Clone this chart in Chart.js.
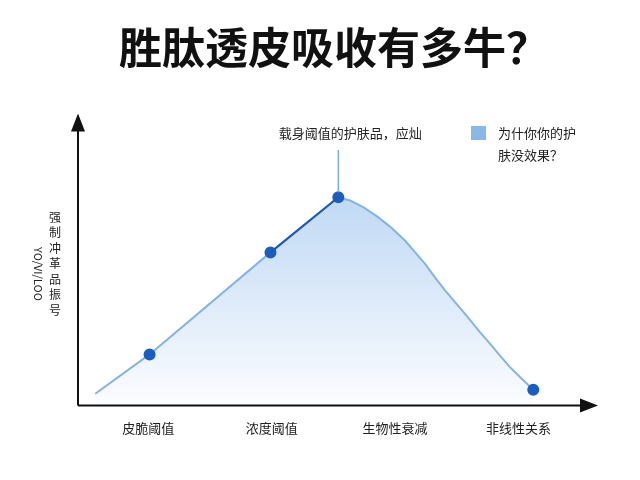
<!DOCTYPE html>
<html>
<head>
<meta charset="utf-8">
<script src="https://cdn.jsdelivr.net/npm/chart.js@4.4.1/dist/chart.umd.min.js"></script>
<style>
  html, body { margin: 0; padding: 0; background: #fff; }
  #wrap { width: 640px; height: 480px; }
</style>
</head>
<body>
<div id="wrap"><canvas id="c" width="640" height="480"></canvas></div>
<script>
var FONT = '"Noto Sans CJK SC", "Noto Sans", sans-serif';

// categories along the x axis (tick positions 1..4)
var categories = ['皮脆阈值', '浓度阈值', '生物性衰减', '非线性关系'];
var tickValues = [1, 2, 3, 4];

// curve
var curveX = [0.57, 1.01, 1.99, 2.54, 2.635, 2.742, 2.851, 2.959, 3.080, 3.161, 3.242, 3.323,
              3.405, 3.486, 3.567, 3.688, 3.769, 3.850, 3.931, 4.012, 4.12];
var curveY = [4.0, 17.6, 52.8, 71.8, 70.7, 68.4, 65.3, 61.7, 56.9, 52.9, 48.9, 44.2,
              39.7, 35.6, 31.6, 25.3, 21.3, 17.2, 13.2, 9.8, 5.4];
var markerIdx = [1, 2, 3, 20];
var peakIdx = 3;
// darker stretch between the 2nd marker and the peak
var darkX = [1.99, 2.54];
var darkY = [52.8, 71.8];

var titleText = '胜肽透皮吸收有多牛？';
var yLabel = '强制冲革品振号';
var yLabel2 = 'YO/VI/LOO';
var noteText = '载身阈值的护肤品，应灿';
var legendLines = ['为什你你的护', '肤没效果？'];

var points = curveX.map(function (x, i) { return { x: x, y: curveY[i] }; });
var radii = curveX.map(function (x, i) { return markerIdx.indexOf(i) >= 0 ? 5 : 0; });
var darkPoints = darkX.map(function (x, i) { return { x: x, y: darkY[i] }; });

var decor = {
    id: 'decor',
    afterDraw: function (chart) {
        var ctx = chart.ctx;
        var a = chart.chartArea;
        var xs = chart.scales.x, ys = chart.scales.y;
        ctx.save();

        // axes with arrows
        ctx.strokeStyle = '#111';
        ctx.fillStyle = '#111';
        ctx.lineWidth = 2;
        ctx.beginPath();
        ctx.moveTo(a.left, a.bottom);
        ctx.lineTo(a.left, a.top + 10);
        ctx.moveTo(a.left, a.bottom);
        ctx.lineTo(a.right - 4, a.bottom);
        ctx.stroke();
        ctx.beginPath();
        ctx.moveTo(a.left, a.top - 2);
        ctx.lineTo(a.left - 7, a.top + 16);
        ctx.lineTo(a.left + 7, a.top + 16);
        ctx.closePath();
        ctx.fill();
        ctx.beginPath();
        ctx.moveTo(a.right + 8, a.bottom);
        ctx.lineTo(a.right - 10, a.bottom - 7);
        ctx.lineTo(a.right - 10, a.bottom + 7);
        ctx.closePath();
        ctx.fill();

        // annotation line from the peak
        var px = xs.getPixelForValue(curveX[peakIdx]);
        var py = ys.getPixelForValue(curveY[peakIdx]);
        ctx.strokeStyle = '#7aaee0';
        ctx.lineWidth = 1.5;
        ctx.beginPath();
        ctx.moveTo(px, py - 5);
        ctx.lineTo(px, 150);
        ctx.stroke();

        ctx.fillStyle = '#222';
        ctx.font = '13px ' + FONT;
        ctx.textBaseline = 'middle';
        ctx.textAlign = 'center';
        ctx.fillText(noteText, px + 12, 133);

        // legend
        ctx.fillStyle = '#8ab8e8';
        ctx.fillRect(471, 126, 15, 14);
        ctx.fillStyle = '#222';
        ctx.textAlign = 'left';
        ctx.fillText(legendLines[0], 498, 133);
        ctx.fillText(legendLines[1], 498, 155);

        // y axis label, stacked characters
        ctx.textAlign = 'center';
        ctx.font = '12px ' + FONT;
        for (var i = 0; i < yLabel.length; i++) {
            ctx.fillText(yLabel.charAt(i), 55, 217 + i * 15.5);
        }
        ctx.translate(38, 274);
        ctx.rotate(Math.PI / 2);
        ctx.font = '11px ' + FONT;
        ctx.fillText(yLabel2, 0, 0);
        ctx.restore();
    }
};

new Chart(document.getElementById('c'), {
    type: 'line',
    data: {
        datasets: [{
            data: darkPoints,
            borderColor: '#1e5bb0',
            borderWidth: 2,
            pointRadius: 0,
            fill: false,
            order: 0
        }, {
            data: points,
            borderColor: '#85b4e4',
            borderWidth: 2,
            tension: 0,
            borderJoinStyle: 'round',
            pointRadius: radii,
            pointBackgroundColor: '#1a5fc0',
            pointBorderColor: '#1a5fc0',
            fill: 'origin',
            order: 1,
            backgroundColor: function (context) {
                var a = context.chart.chartArea;
                if (!a) { return 'rgba(140,185,235,0.4)'; }
                var g = context.chart.ctx.createLinearGradient(0, a.top + 80, 0, a.bottom);
                g.addColorStop(0, 'rgba(140,185,235,0.55)');
                g.addColorStop(1, 'rgba(140,185,235,0.03)');
                return g;
            }
        }]
    },
    options: {
        responsive: false,
        animation: false,
        layout: { padding: { left: 78, right: 50, bottom: 29, top: 0 } },
        plugins: {
            legend: { display: false },
            tooltip: { enabled: false },
            title: {
                display: true,
                text: titleText,
                color: '#111',
                font: { family: FONT, size: 43, weight: 'bold' },
                padding: { top: 22, bottom: 42 }
            }
        },
        scales: {
            x: {
                type: 'linear',
                min: 0.43,
                max: 4.58,
                afterBuildTicks: function (scale) {
                    scale.ticks = tickValues.map(function (v) { return { value: v }; });
                },
                grid: { display: false, drawTicks: false },
                border: { display: false },
                ticks: {
                    padding: 15,
                    color: '#222',
                    font: { family: FONT, size: 13 },
                    maxRotation: 0,
                    callback: function (v) { return categories[tickValues.indexOf(v)]; }
                }
            },
            y: {
                display: false,
                min: 0,
                max: 100
            }
        }
    },
    plugins: [decor]
});
</script>
</body>
</html>
